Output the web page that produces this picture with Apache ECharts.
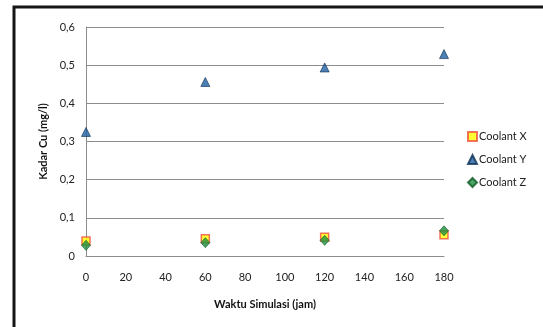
<!DOCTYPE html>
<html>
<head>
<meta charset="utf-8">
<script src="https://cdn.jsdelivr.net/npm/echarts@6/dist/echarts.min.js"></script>
<style>
  html, body { margin: 0; padding: 0; background: #fff; }
  #chart { width: 543px; height: 327px; }
</style>
</head>
<body>
<div id="chart"></div>
<script>
// Simulation times (hours)
const waktu = [0, 60, 120, 180];
// Copper concentration (mg/l) per coolant
const coolantX = [0.039, 0.045, 0.049, 0.056];
const coolantY = [0.325, 0.456, 0.494, 0.529];
const coolantZ = [0.028, 0.035, 0.041, 0.066];

const seriesNames = ['Coolant X', 'Coolant Y', 'Coolant Z'];
const FONT = 'Lato';

const pairs = (ys) => waktu.map((t, i) => [t, ys[i]]);
const fmtComma = (v) => (v === 0 ? '0' : v.toFixed(1).replace('.', ','));

const chart = echarts.init(document.getElementById('chart'));
chart.setOption({
  animation: false,
  backgroundColor: '#ffffff',
  grid: { left: 86, right: 99, top: 27, bottom: 71 },
  xAxis: {
    type: 'value', min: 0, max: 180, interval: 20,
    name: 'Waktu Simulasi (jam)', nameLocation: 'middle', nameGap: 43,
    nameTextStyle: { fontFamily: FONT, fontSize: 11, fontWeight: 'bold', color: '#111' },
    axisLine: { show: true, lineStyle: { color: '#8c8c8c', width: 1 } },
    axisTick: { show: false },
    splitLine: { show: false },
    axisLabel: { margin: 16, fontFamily: FONT, fontSize: 11, color: '#222' }
  },
  yAxis: {
    type: 'value', min: 0, max: 0.6, interval: 0.1,
    name: 'Kadar Cu (mg/l)', nameLocation: 'middle', nameGap: 29,
    nameTextStyle: { fontFamily: FONT, fontSize: 11, fontWeight: 'bold', color: '#111' },
    axisLine: { show: true, lineStyle: { color: '#8c8c8c', width: 1 } },
    axisTick: { show: false },
    splitLine: { show: true, lineStyle: { color: '#8c8c8c', width: 1 } },
    axisLabel: { margin: 11, fontFamily: FONT, fontSize: 11, color: '#222', formatter: fmtComma }
  },
  legend: {
    orient: 'vertical', left: 462, top: 126, itemGap: 12,
    itemWidth: 9, itemHeight: 9,
    textStyle: { fontFamily: FONT, fontSize: 11, color: '#222', padding: [0, 0, 0, -3] },
    data: seriesNames
  },
  graphic: [{
    type: 'polyline', silent: true,
    shape: { points: [[14, 327], [14, 7], [543, 7]] },
    style: { stroke: '#151515', lineWidth: 3, fill: null }
  }],
  series: [
    {
      name: seriesNames[0], type: 'scatter', data: pairs(coolantX), z: 2,
      symbol: 'rect', symbolSize: 8,
      itemStyle: { color: '#ffff00', borderColor: '#f0503c', borderWidth: 1.5 }
    },
    {
      name: seriesNames[1], type: 'scatter', data: pairs(coolantY), z: 3,
      symbol: 'triangle', symbolSize: [9, 9],
      itemStyle: { color: '#1f5fa0', borderColor: '#0d2f55', borderWidth: 0.8 }
    },
    {
      name: seriesNames[2], type: 'scatter', data: pairs(coolantZ), z: 4,
      symbol: 'diamond', symbolSize: [9, 10],
      itemStyle: { color: '#1e9040', borderColor: '#0f5a25', borderWidth: 0.8 }
    }
  ]
});
</script>
</body>
</html>
